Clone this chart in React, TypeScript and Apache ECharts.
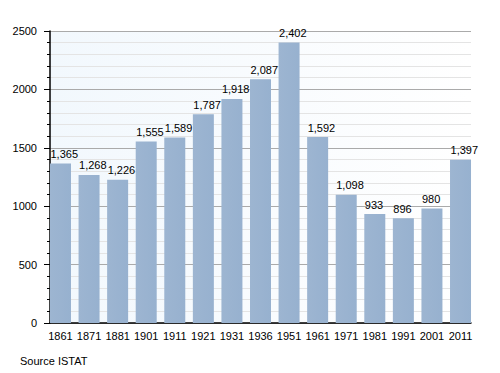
import React, { useEffect, useRef } from "react";
import * as echarts from "echarts";

const years = ["1861","1871","1881","1901","1911","1921","1931","1936","1951","1961","1971","1981","1991","2001","2011"];
const population = [1365,1268,1226,1555,1589,1787,1918,2087,2402,1592,1098,933,896,980,1397];
const sourceText = "Source ISTAT";

export default function App() {
  const ref = useRef<HTMLDivElement>(null);
  useEffect(() => {
    document.body.style.margin = "0";
    if (!ref.current) return;
    const chart = echarts.init(ref.current, null, { renderer: "svg" });
    const font = "Liberation Sans, Arial, sans-serif";
    chart.setOption({
      animation: false,
      backgroundColor: "#ffffff",
      textStyle: { fontFamily: font },
      grid: [
        {
          left: 50, right: 29, top: 31, bottom: 50,
          show: true, borderWidth: 0,
          backgroundColor: new echarts.graphic.LinearGradient(0, 0, 1, 0, [
            { offset: 0, color: "#f2f8fd" },
            { offset: 1, color: "#ffffff" }
          ])
        },
        { left: 46.2, right: 25.2, top: 31, bottom: 50 }
      ],
      xAxis: [
        {
          type: "category", gridIndex: 0, data: years,
          axisLine: { show: true, lineStyle: { color: "#000", width: 1.5 } },
          axisTick: { show: false },
          axisLabel: { show: false },
          splitLine: { show: false }
        },
        {
          type: "category", gridIndex: 1, data: years,
          axisLine: { show: false },
          axisTick: { show: false },
          axisLabel: { color: "#000", fontSize: 11, margin: 7, interval: 0 },
          splitLine: { show: false }
        }
      ],
      yAxis: [
        {
          type: "value", gridIndex: 0,
          min: 0, max: 2500, interval: 500,
          axisLine: { show: true, lineStyle: { color: "#000", width: 1.5 } },
          axisTick: { show: true, length: 6, lineStyle: { color: "#000" } },
          minorTick: { show: true, splitNumber: 5, length: 3, lineStyle: { color: "#000" } },
          axisLabel: { color: "#000", fontSize: 11, margin: 13, formatter: (v: number) => String(v) },
          splitLine: { show: true, lineStyle: { color: "#aaaaaa", width: 1 } },
          minorSplitLine: { show: true, lineStyle: { color: "#e4e4e4", width: 1 } }
        },
        {
          type: "value", gridIndex: 1,
          min: 0, max: 2500, interval: 500,
          show: false,
          splitLine: { show: false }
        }
      ],
      series: [{
        type: "bar",
        xAxisIndex: 1, yAxisIndex: 1,
        data: population,
        barWidth: 21,
        z: 1,
        itemStyle: {
          color: new echarts.graphic.LinearGradient(0, 0, 1, 0, [
            { offset: 0, color: "#9db5d1" },
            { offset: 1, color: "#97b1cf" }
          ])
        },
        label: {
          show: true,
          position: "top",
          align: "left",
          offset: [-10, 0],
          color: "#000",
          fontSize: 11,
          distance: 4,
          formatter: (p: any) => Number(p.value).toLocaleString("en-US")
        }
      }],
      graphic: [{
        type: "text",
        left: 20,
        top: 355,
        style: { text: sourceText, fill: "#000", fontSize: 11, fontFamily: font }
      }]
    });
    return () => chart.dispose();
  }, []);
  return <div ref={ref} style={{ width: 500, height: 373 }} />;
}
